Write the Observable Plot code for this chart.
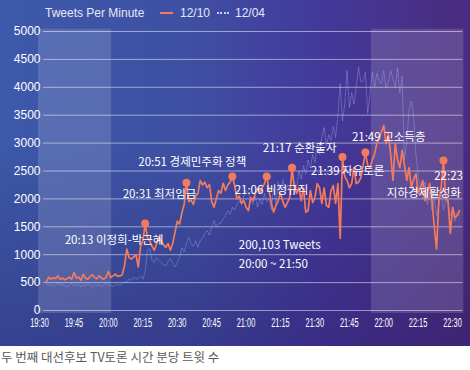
<!DOCTYPE html>
<html>
<head>
<meta charset="utf-8">
<script src="https://cdn.jsdelivr.net/npm/d3@7"></script>
<script src="https://cdn.jsdelivr.net/npm/@observablehq/plot@0.6"></script>
<style>
  html, body { margin: 0; padding: 0; background: #fff; }
  #wrap {
    position: relative; width: 470px; height: 346px; overflow: hidden;
    background:
      linear-gradient(to bottom, rgba(0,0,0,0) 40%, rgba(35,15,85,0.30) 100%),
      linear-gradient(to right, #3d59a9 0%, #3e50a3 40%, #43399a 68%, #4a2c7e 100%);
  }
  #legend { position: absolute; left: 0; top: 0; width: 470px; height: 26px;
    font-family: "Liberation Sans", Arial, sans-serif; font-size: 12px; color: #e6e8f6; }
  #legend span { position: absolute; top: 6px; line-height: 14px; white-space: nowrap; }
  #legend .sw { position: absolute; }
  #caption { font-family: "Noto Sans CJK KR", sans-serif; font-size: 12.5px; color: #5a5a5a;
    line-height: 16px; margin-top: 3px; padding-left: 1px; }
</style>
</head>
<body>
<div id="wrap">
  <div id="legend">
    <span style="left:45px">Tweets Per Minute</span>
    <div class="sw" style="left:160px;top:12px;width:13px;height:2px;background:#f37b5c"></div>
    <span style="left:180px">12/10</span>
    <div class="sw" style="left:217px;top:12px;width:12px;height:0;border-top:2px dotted #c8d0f0"></div>
    <span style="left:235px">12/04</span>
  </div>
</div>
<div id="caption">두 번째 대선후보 TV토론 시간 분당 트윗 수</div>
<script>
// minutes after 19:30, one value per minute (19:30 .. 22:30)
const red1210 = [
  520,600,560,590,570,620,560,580,550,570,
  600,560,680,580,600,540,650,580,560,610,
  640,590,570,620,580,560,600,700,590,620,
  650,610,620,640,800,1100,950,920,960,1000,
  780,1150,1250,1560,1300,1250,1150,1080,1200,1310,
  1250,1180,1130,1200,1080,1200,1400,1600,1550,1750,
  1900,2290,1950,1980,1900,2050,2100,2330,2250,2300,
  2200,2260,1950,1850,2000,2150,2100,2280,2150,2250,
  2300,2400,2240,2000,2050,1920,1970,1850,1790,2025,
  1970,2100,2190,2115,2200,2275,2400,2150,1920,1760,
  1880,1970,2100,1950,1850,1935,2025,2560,2200,2100,
  2200,1970,2200,1760,1790,2150,1935,2025,2275,2200,
  1920,2200,1880,1850,2150,2240,1920,2275,1290,2750,
  2400,2330,2200,2275,2560,2275,2300,2380,2600,2830,
  2600,2560,2700,2810,2990,3100,3200,3315,2990,3170,
  2800,2330,2990,2700,2560,2870,2600,2330,2560,2200,
  2350,2450,2100,2200,2330,1970,2100,2275,1970,1500,
  1100,1970,2200,2690,2000,1970,1380,1850,1670,1700,
  1790
];
const blue1204 = [
  480,450,470,430,460,500,440,470,450,420,
  460,480,440,450,470,430,460,440,480,450,
  420,460,440,470,430,450,480,440,460,430,
  450,470,440,480,520,500,570,540,600,560,
  580,620,560,700,1075,1110,900,860,950,900,
  860,820,800,880,930,850,780,860,950,1130,
  1050,1200,1310,1200,1150,1250,1130,1250,1300,1380,
  1430,1350,1500,1610,1500,1560,1560,1650,1700,1790,
  1720,1850,1800,1900,1970,1900,2050,2150,2100,2000,
  1900,2050,1850,2000,1900,2100,1950,2000,1800,2200,
  1900,2300,2050,2350,2100,2250,2150,2400,2300,2200,
  2500,2350,2600,2450,2700,2550,2800,2650,3000,2800,
  3100,3280,2950,3150,3050,3300,3100,3500,4070,3400,
  3700,4300,3640,3900,3700,4000,4360,4100,4120,4270,
  3530,3900,4270,4000,4250,4100,4070,4300,4000,4090,
  4300,4150,4000,4350,3900,4200,2700,3000,3600,3750,
  3500,2800,2400,2200,2000,2300,1900,2100,1800,2000,
  1700,1900,2100,1800,2000,1900,1700,1800,1600,1750,
  1700
];
const xTickLabels = ["19:30","19:45","20:00","20:15","20:30","20:45","21:00","21:15","21:30","21:45","22:00","22:15","22:30"];
const yTicks = [0,500,1000,1500,2000,2500,3000,3500,4000,4500,5000];

const annoTimes  = ["20:13","20:31","20:51","21:06","21:17","21:39","21:49","22:23"];
const annoValues = [1560, 2290, 2400, 2400, 2560, 2750, 2830, 2690];
const annoLabels = ["20:13 이정희-박근혜","20:31 최저임금","20:51 경제민주화 정책","21:06 비정규직","21:17 순환출자","21:39 자유토론","21:49 고소득층","22:23"];
const annoLabelTime  = [7.9, 33.2, 40.0, 82.0, 94.3, 115.2, 133.1, 181.5];
const annoLabelValue = [1250, 2080, 2650, 2150, 2900, 2490, 3110, 2410];
const annoEndAligned = [false, false, false, false, false, false, false, true];

const extraLabels = ["지하경제활성화", "200,103 Tweets", "20:00 ~ 21:50"];
const extraTime   = [180.6, 83.8, 83.8];
const extraValue  = [2100, 1160, 830];
const extraEndAligned = [true, false, false];

const bandStart = [-3.5, 141.6];
const bandEnd   = [28.4, 181.9];

const toMin = s => { const [h, m] = s.split(":").map(Number); return (h - 19) * 60 + m - 30; };

const redData  = red1210.map((v, i) => ({m: i, v}));
const blueData = blue1204.map((v, i) => ({m: i, v}));
const xTickMins = xTickLabels.map(toMin);
const annos = annoTimes.map((t, i) => ({m: toMin(t), v: annoValues[i]}));
const labels = [
  ...annoLabels.map((l, i) => ({label: l, lm: annoLabelTime[i], lv: annoLabelValue[i], end: annoEndAligned[i]})),
  ...extraLabels.map((l, i) => ({label: l, lm: extraTime[i], lv: extraValue[i], end: extraEndAligned[i]}))
];
const bands = bandStart.map((s, i) => ({s, e: bandEnd[i]}));

const RED = "#f37b5c";
const labelFont = {fill: "white", fontSize: 11.5, fontFamily: "'Noto Sans CJK KR', sans-serif"};
const plot = Plot.plot({
  width: 470, height: 346,
  marginTop: 31, marginBottom: 36, marginLeft: 46, marginRight: 11,
  style: {background: "transparent", color: "white", fontFamily: "'Liberation Sans', Arial, sans-serif", overflow: "visible"},
  x: {domain: [0, 180], axis: null},
  y: {domain: [0, 5000], axis: null},
  marks: [
    Plot.rect(bands, {x1: "s", x2: "e", y1: -55, y2: 5040, fill: "white", fillOpacity: 0.14}),
    Plot.ruleY(yTicks, {x1: -1.3, x2: 181.5, stroke: "white", strokeOpacity: 0.5, strokeWidth: 1}),
    Plot.axisY({ticks: yTicks, tickSize: 0, tickPadding: 6, fontSize: 12, tickFormat: d => String(d)}),
    Plot.axisX({ticks: xTickMins, tickSize: 0, tickPadding: 8, fontSize: 12, dx: -7,
      tickFormat: d => xTickLabels[xTickMins.indexOf(d)]}),
    Plot.line(blueData, {x: "m", y: "v", stroke: "#b4c2f2", strokeOpacity: 0.38, strokeWidth: 1, strokeDasharray: "1.2,1.2"}),
    Plot.line(redData, {x: "m", y: "v", stroke: RED, strokeWidth: 1.7, strokeLinejoin: "round"}),
    Plot.dot(annos, {x: "m", y: "v", r: 4, fill: RED}),
    Plot.text(labels.filter(d => !d.end), {x: "lm", y: "lv", text: "label", textAnchor: "start", ...labelFont}),
    Plot.text(labels.filter(d => d.end), {x: "lm", y: "lv", text: "label", textAnchor: "end", ...labelFont})
  ]
});
document.getElementById("wrap").appendChild(plot);
d3.select(plot).selectAll('g[aria-label="x-axis tick label"] text')
  .attr("textLength", 18.5).attr("lengthAdjust", "spacingAndGlyphs");
</script>
</body>
</html>
